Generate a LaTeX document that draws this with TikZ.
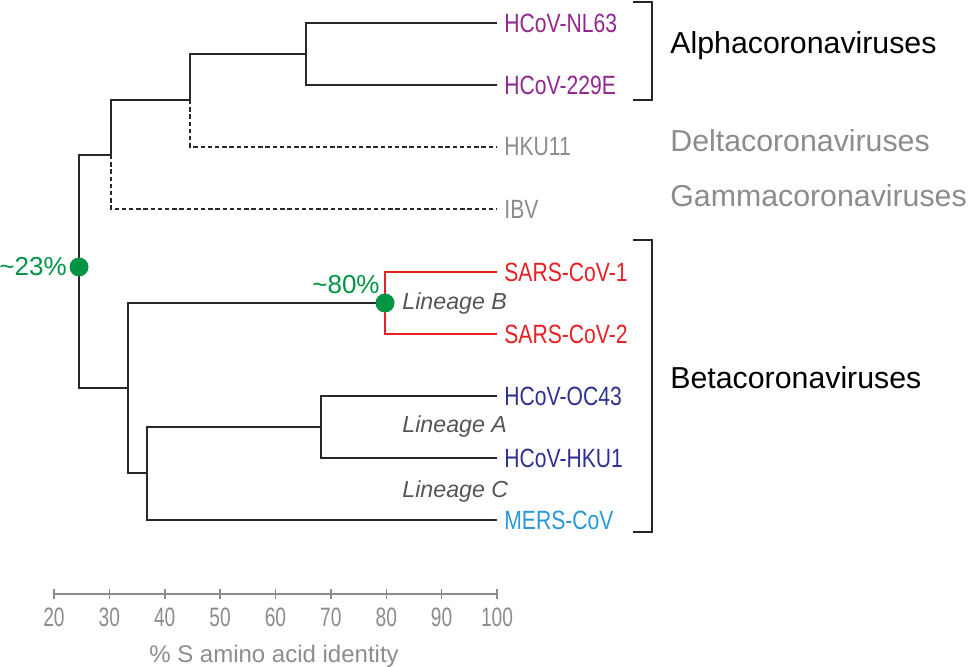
\documentclass[tikz,border=0pt]{standalone}
\usepackage{fontspec}
\setmainfont{Liberation Sans}
\newfontfamily\condfont{Liberation Sans}[FakeStretch=0.80]
\newfontfamily\tickfont{Liberation Sans}[FakeStretch=0.72]
\usetikzlibrary{positioning}

\definecolor{treecol}{RGB}{40,40,40}
\definecolor{alphacol}{RGB}{146,39,143}
\definecolor{sarscol}{RGB}{232,32,36}
\definecolor{oc43col}{RGB}{46,49,146}
\definecolor{merscol}{RGB}{41,153,214}
\definecolor{greycol}{RGB}{140,140,140}
\definecolor{lingray}{RGB}{85,85,85}
\definecolor{dotcol}{RGB}{0,148,68}

\tikzset{
    branch/.style={draw=treecol, line width=0.75pt},
    dashbranch/.style={branch, dash pattern=on 2.2pt off 1.4pt},
    leaf/.style={anchor=west, inner xsep=3.5pt, inner ysep=0pt,
        font=\condfont\fontsize{13.2}{15}\selectfont},
    group/.style={anchor=base west, inner sep=0pt, font=\fontsize{15.15}{18}\selectfont},
    lineage/.style={anchor=base west, inner sep=0pt, text=lingray,
        font=\itshape\fontsize{11.6}{14}\selectfont},
    dot/.style={circle, fill=dotcol, inner sep=0pt, minimum size=9.5pt},
    pct/.style={text=dotcol, inner sep=0pt, font=\fontsize{13}{15}\selectfont},
    bracket/.style={draw=black!85, line width=1pt},
    axis/.style={draw=greycol, line width=0.75pt},
}

\begin{document}
\begin{tikzpicture}[x=0.5pt, y=-0.5pt]
    \useasboundingbox (0,0) rectangle (969,667);

    % leaves
    \node [leaf, text=alphacol] (nl63) at (497,23) {HCoV-NL63};
    \node [leaf, text=alphacol] (e229) at (497,85) {HCoV-229E};
    \node [leaf, text=greycol] (hku11) at (497,147) {HKU11};
    \node [leaf, text=greycol] (ibv) at (497,209) {IBV};
    \node [leaf, text=sarscol] (sars1) at (497,272) {SARS-CoV-1};
    \node [leaf, text=sarscol] (sars2) at (497,334) {SARS-CoV-2};
    \node [leaf, text=oc43col] (oc43) at (497,396) {HCoV-OC43};
    \node [leaf, text=oc43col] (hku1) at (497,458) {HCoV-HKU1};
    \node [leaf, text=merscol] (mers) at (497,520) {MERS-CoV};

    % inner nodes
    \coordinate (alpha) at (306,54);
    \coordinate (delta) at (190,100);
    \coordinate (gamma) at (111,155);
    \coordinate (root) at (79,267);
    \coordinate (beta) at (128,388);
    \coordinate (linB) at (385,303);
    \coordinate (linAC) at (147,473);
    \coordinate (linA) at (321,427);

    % branches
    \draw [branch] (nl63.west) -| (alpha) |- (e229.west);
    \draw [branch] (alpha) -| (delta);
    \draw [dashbranch] (delta) |- (hku11.west);
    \draw [branch] (delta) -| (gamma);
    \draw [dashbranch] (gamma) |- (ibv.west);
    \draw [branch] (gamma) -| (root) |- (beta);
    \draw [branch] (linB) -| (beta) |- (linAC);
    \draw [branch] (linA) -| (linAC) |- (mers.west);
    \draw [branch] (oc43.west) -| (linA) |- (hku1.west);
    \draw [branch, draw=sarscol] (sars1.west) -| (linB) |- (sars2.west);

    \node [dot] (rootdot) at (root) {};
    \node [dot] (sarsdot) at (linB) {};
    \node [pct, left=1pt of rootdot] (pct23) {\textasciitilde23\%};
    \node [pct, anchor=south east] (pct80) at ([xshift=1pt,yshift=1pt]sarsdot.north west) {\textasciitilde80\%};

    \node [lineage] (labB) at (402,310) {Lineage B};
    \node [lineage] (labA) at (402,433) {Lineage A};
    \node [lineage] (labC) at (402,498) {Lineage C};

    % groups
    \draw [bracket] (633,2) -- (652,2) -- (652,100) -- (633,100);
    \draw [bracket] (633,240) -- (652,240) -- (652,532) -- (633,532);
    \node [group] (galpha) at (670,54) {Alphacoronaviruses};
    \node [group, text=greycol] (gdelta) at (670,152) {Deltacoronaviruses};
    \node [group, text=greycol] (ggamma) at (670,207) {Gammacoronaviruses};
    \node [group] (gbeta) at (670,389) {Betacoronaviruses};

    % axis
    \coordinate (ax0) at (54,594);
    \coordinate (ax1) at (497,594);
    \draw [axis] (ax0) -- (ax1);
    \foreach \v [count=\i from 0] in {20,30,...,100} {
        \draw [axis] ({54+55.375*\i},589) -- ({54+55.375*\i},599);
        \node [text=greycol, inner sep=0pt, font=\tickfont\fontsize{13.3}{15}\selectfont]
            (tick\v) at ({54+55.375*\i},617) {\v};
    }
    \node [anchor=base, inner sep=0pt, text=greycol, font=\fontsize{12}{14}\selectfont]
        (axtitle) at (274,662) {\% S amino acid identity};
\end{tikzpicture}
\end{document}
